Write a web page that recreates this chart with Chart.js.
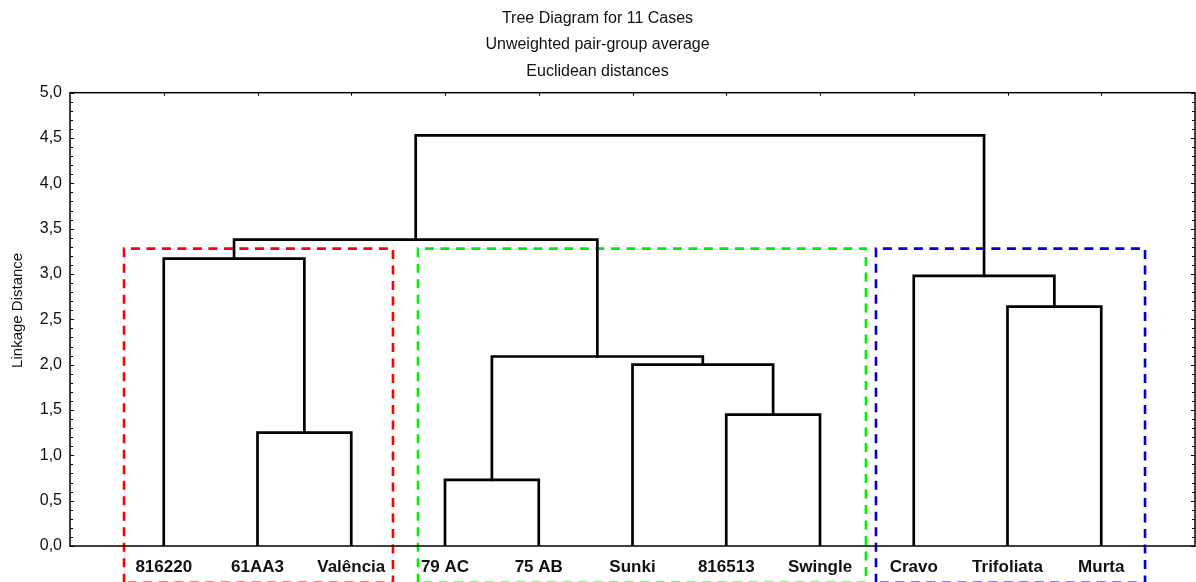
<!DOCTYPE html>
<html>
<head>
<meta charset="utf-8">
<script src="https://cdn.jsdelivr.net/npm/chart.js@4/dist/chart.umd.min.js"></script>
<style>
html,body{margin:0;padding:0;background:#fff;}
#wrap{width:1196px;height:582px;position:relative;}
</style>
</head>
<body>
<div id="wrap"><canvas id="c"></canvas></div>
<script>
// ---- data ----
const titleLines = ['Tree Diagram for 11 Cases', 'Unweighted pair-group average', 'Euclidean distances'];
const yTitle = 'Linkage Distance';
const leaves = ['816220', '61AA3', 'Valência', '79 AC', '75 AB', 'Sunki', '816513', 'Swingle', 'Cravo', 'Trifoliata', 'Murta'];
// merges: node index = leaves.length + merge index
const mergeLeft   = [3, 1, 6, 5, 11, 9, 8, 0, 18, 19];
const mergeRight  = [4, 2, 7, 13, 14, 10, 16, 12, 15, 17];
const mergeHeight = [0.73, 1.25, 1.45, 2.00, 2.09, 2.64, 2.98, 3.17, 3.38, 4.53];
const yTicks = [0, 0.5, 1, 1.5, 2, 2.5, 3, 3.5, 4, 4.5, 5];
// cluster boxes (in leaf-position units / linkage units)
const groupColors = ['#ff0000', '#00ee00', '#0000d0'];
const groupStart  = [0.576, 3.712, 8.597];
const groupEnd    = [3.445, 8.49, 11.467];
const groupTop    = [3.28, 3.28, 3.28];
const groupBottom = [-0.405, -0.405, -0.405];

// ---- build datasets ----
const FONT = '"Liberation Sans", Arial, sans-serif';
const nodeX = leaves.map((_, i) => i + 1);
const nodeH = leaves.map(() => 0);
const datasets = [];
mergeLeft.forEach((a, i) => {
  const b = mergeRight[i];
  const h = mergeHeight[i];
  datasets.push({
    data: [{x: nodeX[a], y: nodeH[a]}, {x: nodeX[a], y: h}, {x: nodeX[b], y: h}, {x: nodeX[b], y: nodeH[b]}],
    borderColor: '#000', borderWidth: 2.7, pointRadius: 0, fill: false, tension: 0,
    borderCapStyle: 'square', borderJoinStyle: 'miter', order: 1
  });
  nodeX.push((nodeX[a] + nodeX[b]) / 2);
  nodeH.push(h);
});
groupColors.forEach((col, i) => {
  datasets.push({
    data: [{x: groupStart[i], y: groupBottom[i]}, {x: groupStart[i], y: groupTop[i]},
           {x: groupEnd[i], y: groupTop[i]}, {x: groupEnd[i], y: groupBottom[i]}, {x: groupStart[i], y: groupBottom[i]}],
    borderColor: col, borderWidth: 2.6, borderDash: [9, 6.5], pointRadius: 0, fill: false,
    tension: 0, clip: false, order: 2
  });
});

const framePlugin = {
  id: 'frame',
  afterDraw(chart) {
    const {ctx, chartArea: a, scales: {x, y}} = chart;
    ctx.save();
    ctx.strokeStyle = '#000';
    ctx.lineWidth = 1.5;
    ctx.strokeRect(a.left, a.top, a.right - a.left, a.bottom - a.top);
    ctx.lineWidth = 1;
    for (let k = 0; k <= 50; k++) {
      const v = k / 10;
      const py = Math.round(y.getPixelForValue(v)) + 0.5;
      const len = (k % 5 === 0) ? 4 : 3;
      ctx.beginPath();
      ctx.moveTo(a.left, py); ctx.lineTo(a.left + len, py);
      ctx.moveTo(a.right, py); ctx.lineTo(a.right - len, py);
      ctx.stroke();
    }
    leaves.forEach((_, i) => {
      const px = Math.round(x.getPixelForValue(i + 1)) + 0.5;
      ctx.beginPath();
      ctx.moveTo(px, a.top); ctx.lineTo(px, a.top + 3);
      ctx.stroke();
    });
    // y-axis title
    ctx.translate(18, (a.top + a.bottom) / 2 - 9);
    ctx.rotate(-Math.PI / 2);
    ctx.fillStyle = '#111';
    ctx.font = '15px ' + FONT;
    ctx.textAlign = 'center';
    ctx.textBaseline = 'middle';
    ctx.fillText(yTitle, 0, 0);
    ctx.restore();
  }
};

new Chart(document.getElementById('c'), {
  type: 'line',
  data: {datasets},
  options: {
    responsive: true, maintainAspectRatio: false, animation: false,
    layout: {padding: {left: 0, right: 1, top: 0, bottom: 0}},
    plugins: {
      legend: {display: false}, tooltip: {enabled: false},
      title: {
        display: true, text: titleLines, color: '#111',
        font: {family: FONT, size: 16, weight: 'normal', lineHeight: 1.66},
        padding: {top: 5, bottom: 8}
      }
    },
    scales: {
      x: {
        type: 'linear', min: 0, max: leaves.length + 1,
        grid: {display: false, drawTicks: false}, border: {display: false},
        afterFit(s) { s.height = 36; },
        afterBuildTicks(s) { s.ticks = leaves.map((_, i) => ({value: i + 1})); },
        ticks: {
          autoSkip: false, maxRotation: 0, padding: 11, color: '#111',
          font: {family: FONT, size: 17, weight: 'bold'},
          callback: (v) => leaves[v - 1] ?? ''
        }
      },
      y: {
        type: 'linear', min: 0, max: 5,
        grid: {display: false, drawTicks: false}, border: {display: false},
        afterFit(s) { s.width = 70; },
        afterBuildTicks(s) { s.ticks = yTicks.map(v => ({value: v})); },
        ticks: {
          padding: 8, color: '#111',
          font: {family: FONT, size: 16},
          callback: (v) => Number(v).toFixed(1).replace('.', ',')
        }
      }
    }
  },
  plugins: [framePlugin]
});
</script>
</body>
</html>
